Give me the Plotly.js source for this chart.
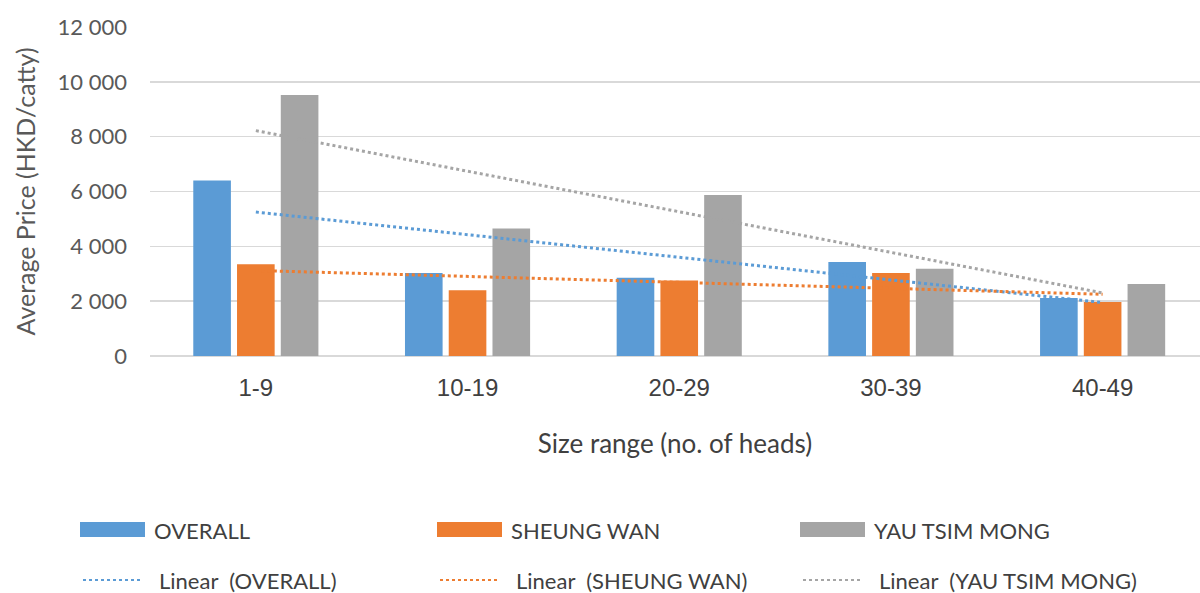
<!DOCTYPE html>
<html>
<head>
<meta charset="utf-8">
<script src="https://cdn.plot.ly/plotly-3.0.1.min.js"></script>
<style>html,body{margin:0;padding:0;background:#fff;}#chart{width:1200px;height:593px;}</style>
</head>
<body>
<div id="chart"></div>
<script>
// ---- data ----
const categories = ["1-9", "10-19", "20-29", "30-39", "40-49"];
const seriesNames = ["OVERALL", "SHEUNG WAN", "YAU TSIM MONG"];
const overall = [6400, 3030, 2850, 3430, 2120];
const sheungWan = [3350, 2400, 2750, 3030, 1970];
const yauTsimMong = [9520, 4650, 5870, 3180, 2630];
// linear trendline end points (first and last category)
const trendCats = ["1-9", "40-49"];
const trendOverall = [5250, 1950];
const trendSheungWan = [3120, 2250];
const trendYauTsimMong = [8220, 2300];
const trendNames = ["Linear  (OVERALL)", "Linear  (SHEUNG WAN)", "Linear  (YAU TSIM MONG)"];
const yTicks = [0, 2000, 4000, 6000, 8000, 10000, 12000];

const colors = ["#5b9bd5", "#ed7d31", "#a5a5a5"];
const FONT = "Lato, 'Open Sans', sans-serif";
const ARIAL = "'Liberation Sans', Arial, sans-serif";
const TXT = "#595959";

const barData = [overall, sheungWan, yauTsimMong];
const trendData = [trendOverall, trendSheungWan, trendYauTsimMong];

const traces = [];
barData.forEach((vals, i) => {
  traces.push({type: "bar", name: seriesNames[i], x: categories, y: vals,
    marker: {color: colors[i]}, showlegend: false, hoverinfo: "x+y+name"});
});
trendData.forEach((vals, i) => {
  traces.push({type: "scatter", mode: "lines", name: trendNames[i], x: trendCats, y: vals,
    line: {color: colors[i], width: 3, dash: "dot"}, showlegend: false});
});

// plot area in pixels
const W = 1200, H = 593, L = 150, R = 0, T = 27, B = 237;
const pw = W - L - R, ph = H - T - B;
const px = v => (v - L) / pw;          // pixel x -> paper x
const py = v => (H - B - v) / ph;      // pixel y -> paper y

const shapes = [], annotations = [];
const colX = [80, 437, 800];
for (let i = 0; i < 3; i++) {
  // bar swatch
  shapes.push({type: "rect", xref: "paper", yref: "paper",
    x0: px(colX[i]), x1: px(colX[i] + 65), y0: py(537), y1: py(522),
    fillcolor: colors[i], line: {width: 0}});
  annotations.push({xref: "paper", yref: "paper", x: px(colX[i] + 72), y: py(530),
    xanchor: "left", yanchor: "middle", showarrow: false, text: seriesNames[i],
    font: {family: FONT, size: 22, color: "#404040"}});
  // trend swatch
  shapes.push({type: "line", xref: "paper", yref: "paper",
    x0: px(colX[i] + 3), x1: px(colX[i] + 63), y0: py(580), y1: py(580),
    line: {color: colors[i], width: 2, dash: "dot"}});
  annotations.push({xref: "paper", yref: "paper", x: px(colX[i] + 77), y: py(580),
    xanchor: "left", yanchor: "middle", showarrow: false, text: trendNames[i],
    font: {family: FONT, size: 22, color: "#404040"}});
}

const layout = {
  width: W, height: H,
  margin: {l: L, r: R, t: T, b: B, pad: 0},
  paper_bgcolor: "#fff", plot_bgcolor: "#fff",
  separators: ". ",
  barmode: "group", bargap: 0.38, bargroupgap: 0.14,
  font: {family: FONT, color: TXT, size: 20},
  xaxis: {type: "category", categoryorder: "array", categoryarray: categories,
    range: [-0.5, 4.46], showgrid: false, zeroline: false, showline: false,
    ticks: "", tickfont: {family: ARIAL, size: 24, color: "#404040"},
    ticklabelstandoff: 15,
    title: {text: "Size range (no. of heads)", font: {family: FONT, size: 26, color: "#404040"}, standoff: 34}},
  yaxis: {range: [0, 12000], tickvals: yTicks, tickformat: ",d",
    showgrid: true, gridcolor: "#d9d9d9", gridwidth: 1.5,
    zeroline: true, zerolinecolor: "#d9d9d9", zerolinewidth: 1.5, showline: false,
    ticks: "", ticklabelstandoff: 22, tickfont: {family: FONT, size: 22, color: TXT},
    title: {text: "Average Price (HKD/catty)", font: {family: FONT, size: 25, color: TXT}, standoff: 14}},
  shapes: shapes,
  annotations: annotations,
  showlegend: false
};

Plotly.newPlot("chart", traces, layout, {displayModeBar: false, staticPlot: true});
</script>
</body>
</html>
